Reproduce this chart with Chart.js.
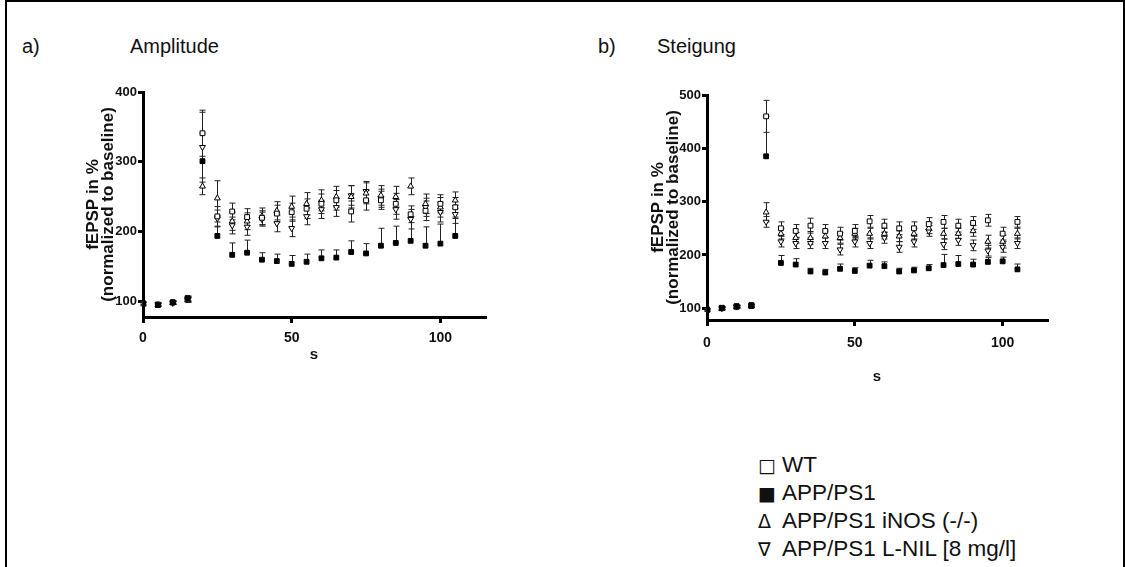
<!DOCTYPE html>
<html>
<head>
<meta charset="utf-8">
<script src="https://cdn.jsdelivr.net/npm/chart.js@4.4.1/dist/chart.umd.min.js"></script>
<style>
  html, body { margin: 0; padding: 0; background: #fff; }
  body { width: 1125px; height: 567px; position: relative; overflow: hidden;
         font-family: 'Liberation Sans', Arial, sans-serif; color: #111; }
  .frame { position: absolute; left: 5px; top: 0; width: 1116px; height: 580px;
           border: 2px solid #000; border-bottom: none; }
  .lbl { position: absolute; font-size: 20px; line-height: 20px; white-space: nowrap; }
  canvas { position: absolute; }
  .legend { position: absolute; left: 758px; top: 451px; font-size: 22.5px; line-height: 27px; }
  .legend div { white-space: nowrap; }
  .legend .sym { display: inline-block; width: 24px; font-family: 'DejaVu Sans', sans-serif; font-size: 19px; }
</style>
</head>
<body>
<div class="frame"></div>
<div class="lbl" style="left:22px; top:36px">a)</div>
<div class="lbl" style="left:130px; top:36px">Amplitude</div>
<div class="lbl" style="left:598px; top:36px">b)</div>
<div class="lbl" style="left:657px; top:36px">Steigung</div>

<canvas id="chart-amp" width="520" height="330" style="left:0; top:60px"></canvas>
<canvas id="chart-slope" width="520" height="340" style="left:560px; top:60px"></canvas>

<div class="legend">
  <div><span class="sym">□</span>WT</div>
  <div><span class="sym">■</span>APP/PS1</div>
  <div><span class="sym">Δ</span>APP/PS1 iNOS (-/-)</div>
  <div><span class="sym">∇</span>APP/PS1 L-NIL [8 mg/l]</div>
</div>

<script>
// time points (s)
const times = [0, 5, 10, 15, 20, 25, 30, 35, 40, 45, 50, 55, 60, 65, 70, 75, 80, 85, 90, 95, 100, 105];
const xTicks = [0, 50, 100];

// a) Amplitude
const ampTicks = [100, 200, 300, 400];
const ampWT      = [98, 96, 99, 104, 341, 222, 229, 221, 220, 226, 228, 233, 240, 245, 229, 245, 245, 240, 225, 230, 240, 235];
const ampWTErr   = [2, 2, 2, 3, 33, 14, 12, 12, 10, 12, 13, 14, 14, 14, 15, 14, 13, 15, 12, 14, 13, 14];
const ampAPP     = [97, 95, 99, 105, 301, 194, 167, 170, 160, 158, 154, 157, 162, 163, 171, 169, 180, 184, 187, 180, 183, 194];
const ampAPPErr  = [2, 2, 2, 3, 40, 20, 17, 18, 10, 10, 12, 11, 12, 11, 16, 14, 25, 24, 35, 27, 28, 25];
const ampINOS    = [96, 95, 98, 102, 265, 248, 215, 215, 222, 230, 236, 240, 245, 250, 250, 255, 252, 250, 265, 240, 235, 245];
const ampINOSErr = [2, 2, 2, 3, 12, 25, 13, 12, 12, 13, 15, 16, 15, 15, 16, 15, 14, 15, 12, 14, 14, 12];
const ampLNIL    = [97, 96, 98, 103, 321, 219, 209, 207, 218, 212, 205, 222, 232, 235, 252, 258, 248, 232, 218, 235, 228, 225];
const ampLNILErr = [2, 2, 2, 3, 50, 12, 12, 12, 10, 12, 12, 12, 13, 13, 14, 14, 13, 14, 14, 13, 14, 13];

// b) Steigung
const slopeTicks = [100, 200, 300, 400, 500];
const slWT      = [98, 100, 103, 104, 460, 250, 245, 255, 245, 240, 245, 263, 255, 250, 250, 258, 262, 255, 260, 265, 240, 262];
const slWTErr   = [2, 2, 2, 2, 30, 12, 12, 14, 12, 12, 12, 11, 12, 12, 12, 12, 12, 12, 12, 11, 12, 10];
const slAPP     = [97, 101, 104, 106, 385, 185, 182, 169, 167, 174, 170, 180, 179, 169, 171, 175, 181, 183, 182, 187, 188, 173];
const slAPPErr  = [2, 2, 2, 2, 75, 14, 11, 6, 6, 9, 6, 10, 8, 6, 6, 7, 20, 16, 10, 8, 8, 10];
const slINOS    = [96, 99, 102, 104, 280, 240, 232, 232, 235, 232, 240, 240, 240, 235, 240, 250, 240, 240, 245, 225, 225, 240];
const slINOSErr = [2, 2, 2, 2, 18, 10, 10, 12, 10, 10, 10, 10, 10, 10, 10, 10, 10, 10, 10, 12, 12, 10];
const slLNIL    = [97, 100, 103, 105, 262, 225, 222, 222, 222, 210, 225, 222, 232, 215, 225, 245, 220, 228, 218, 208, 215, 222];
const slLNILErr = [2, 2, 2, 2, 10, 10, 10, 10, 10, 10, 10, 10, 10, 10, 10, 10, 10, 10, 10, 10, 10, 10];

Chart.defaults.font.family = "'Liberation Sans', Arial, sans-serif";
Chart.defaults.color = '#111';

const toPoints = vals => vals.map((v, i) => ({ x: times[i], y: v }));

// error bars drawn through the chart's own scales
const errorBars = {
  id: 'errorBars',
  beforeDatasetsDraw(chart) {
    const { ctx, scales: { x, y } } = chart;
    ctx.save();
    ctx.strokeStyle = '#222';
    ctx.lineWidth = 1;
    chart.data.datasets.forEach(ds => {
      ds.data.forEach((p, i) => {
        const e = ds.err[i];
        if (!e) return;
        const px = Math.round(x.getPixelForValue(p.x)) + 0.5;
        const top = y.getPixelForValue(p.y + e);
        const bot = y.getPixelForValue(ds.upOnly ? p.y : p.y - e);
        ctx.beginPath();
        ctx.moveTo(px, top); ctx.lineTo(px, bot);
        ctx.moveTo(px - 3, top); ctx.lineTo(px + 3, top);
        if (!ds.upOnly) { ctx.moveTo(px - 3, bot); ctx.lineTo(px + 3, bot); }
        ctx.stroke();
      });
    });
    ctx.restore();
  }
};

function series(label, vals, err, style, extra) {
  return Object.assign({
    label,
    data: toPoints(vals),
    err,
    pointStyle: style,
    pointRadius: 3.4,
    pointBorderColor: '#000',
    pointBorderWidth: 1,
    pointBackgroundColor: '#fff',
    showLine: false
  }, extra || {});
}

function makeChart(id, sets, yMax, yTicks, geo) {
  const axisFont = { size: 13, weight: 'bold' };
  return new Chart(document.getElementById(id), {
    type: 'scatter',
    data: { datasets: sets },
    options: {
      responsive: false,
      animation: false,
      layout: { padding: geo.padding },
      plugins: { legend: { display: false }, tooltip: { enabled: false } },
      scales: {
        x: {
          type: 'linear', min: 0, max: 115,
          afterBuildTicks: s => { s.ticks = xTicks.map(v => ({ value: v })); },
          afterFit: s => { s.height = geo.xHeight; },
          grid: { drawOnChartArea: false, drawTicks: true, tickLength: 6, lineWidth: 3, color: '#000' },
          border: { display: true, width: 3, color: '#000' },
          ticks: { font: { size: 14, weight: 'bold' }, color: '#111', padding: geo.xPad, maxRotation: 0 },
          title: { display: true, text: 's', font: { size: 15, weight: 'bold' }, color: '#111',
                   padding: { top: 0, bottom: geo.sPad } }
        },
        y: {
          type: 'linear', min: 78, max: yMax,
          afterBuildTicks: s => { s.ticks = yTicks.map(v => ({ value: v })); },
          afterFit: s => { s.width = geo.yWidth; },
          grid: { drawOnChartArea: false, drawTicks: true, tickLength: 5, lineWidth: 3, color: '#000' },
          border: { display: true, width: 3, color: '#000' },
          ticks: { font: axisFont, color: '#111', padding: 1 },
          title: { display: true, text: ['fEPSP in %', '(normalized to baseline)'],
                   font: { size: 17, weight: 'bold', lineHeight: 0.9 }, color: '#111',
                   padding: { top: 5.4, bottom: 0 } }
        }
      }
    },
    plugins: [errorBars]
  });
}

// first dataset is drawn on top, so APP/PS1 goes first
makeChart('chart-amp', [
  series('APP/PS1', ampAPP, ampAPPErr, 'rect', { pointBackgroundColor: '#000', upOnly: true }),
  series('WT', ampWT, ampWTErr, 'rect'),
  series('APP/PS1 iNOS (-/-)', ampINOS, ampINOSErr, 'triangle'),
  series('APP/PS1 L-NIL [8 mg/l]', ampLNIL, ampLNILErr, 'triangle', { rotation: 180 })
], 400, ampTicks, { padding: { left: 80, top: 32, right: 35, bottom: 0 }, yWidth: 63, xHeight: 73, xPad: 7, sPad: 26 });

makeChart('chart-slope', [
  series('APP/PS1', slAPP, slAPPErr, 'rect', { pointBackgroundColor: '#000', upOnly: true }),
  series('WT', slWT, slWTErr, 'rect'),
  series('APP/PS1 iNOS (-/-)', slINOS, slINOSErr, 'triangle'),
  series('APP/PS1 L-NIL [8 mg/l]', slLNIL, slLNILErr, 'triangle', { rotation: 180 })
], 500, slopeTicks, { padding: { left: 85, top: 35, right: 33, bottom: 0 }, yWidth: 62, xHeight: 80, xPad: 9, sPad: 14 });
</script>
</body>
</html>
